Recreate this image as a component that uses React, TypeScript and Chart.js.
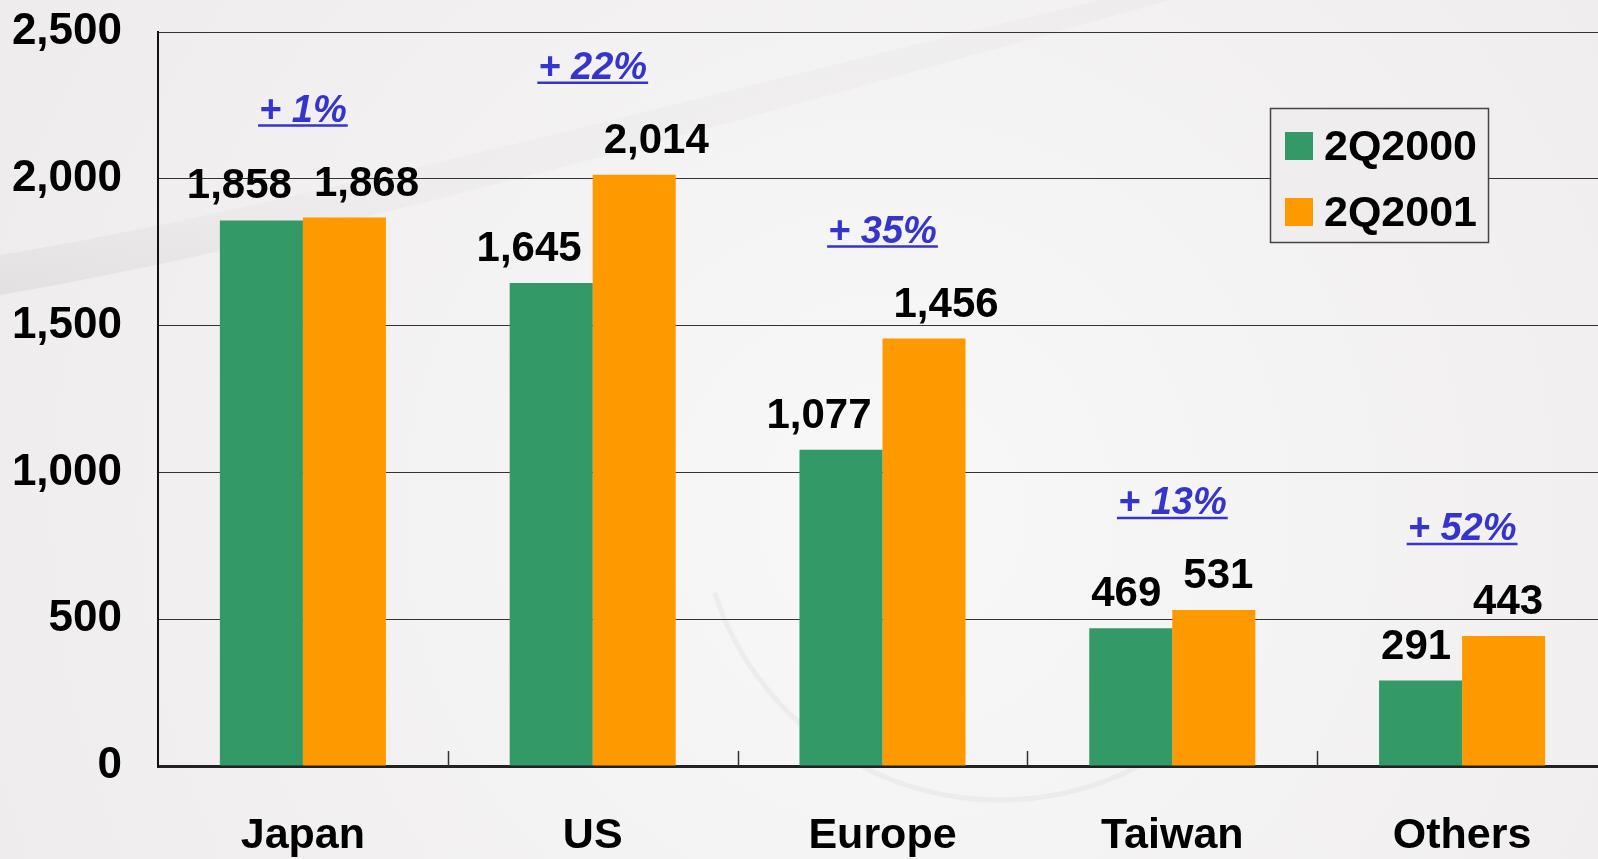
import React, { useEffect, useRef } from 'react';
import { Chart, registerables } from 'chart.js';

Chart.register(...registerables);

const CATEGORIES = ['Japan', 'US', 'Europe', 'Taiwan', 'Others'];
const SERIES_2000 = [1858, 1645, 1077, 469, 291];
const SERIES_2001 = [1868, 2014, 1456, 531, 443];
const SERIES_LABELS = ['2Q2000', '2Q2001'];
const SERIES_COLORS = ['#339966', '#FF9900'];
const GROWTH_LABELS = ['+ 1%', '+ 22%', '+ 35%', '+ 13%', '+ 52%'];
const Y_MIN = 0;
const Y_MAX = 2500;
const Y_STEP = 500;

const FONT = '"Liberation Sans", Arial, Helvetica, sans-serif';

const fmt = (v: number) => v.toLocaleString('en-US');

const backgroundPlugin = {
  id: 'bgPlugin',
  beforeDraw(chart: any) {
    const ctx = chart.ctx as CanvasRenderingContext2D;
    const w = chart.width;
    const h = chart.height;
    ctx.save();
    ctx.fillStyle = '#eeecec';
    ctx.fillRect(0, 0, w, h);
    // light area in the middle
    const rg = ctx.createRadialGradient(w * 0.55, h * 0.6, 50, w * 0.55, h * 0.6, w * 0.6);
    rg.addColorStop(0, 'rgba(249,248,248,0.95)');
    rg.addColorStop(1, 'rgba(249,248,248,0)');
    ctx.fillStyle = rg;
    ctx.fillRect(0, 0, w, h);
    // soft diagonal swoosh top-left
    ctx.beginPath();
    ctx.moveTo(0, 255);
    ctx.bezierCurveTo(300, 205, 700, 95, 1100, 0);
    ctx.lineTo(1170, 0);
    ctx.bezierCurveTo(760, 115, 320, 240, 0, 295);
    ctx.closePath();
    const lg = ctx.createLinearGradient(0, 200, 0, 300);
    lg.addColorStop(0, 'rgba(170,165,165,0.06)');
    lg.addColorStop(1, 'rgba(150,145,145,0.14)');
    ctx.fillStyle = lg;
    ctx.fill();
    // faint arc
    ctx.beginPath();
    ctx.arc(1000, 500, 300, Math.PI * 0.2, Math.PI * 0.9);
    ctx.strokeStyle = 'rgba(160,155,155,0.10)';
    ctx.lineWidth = 5;
    ctx.stroke();
    ctx.restore();
  },
};

const annotationPlugin = {
  id: 'annotPlugin',
  afterDatasetsDraw(chart: any) {
    const ctx = chart.ctx as CanvasRenderingContext2D;
    const area = chart.chartArea;
    const xScale = chart.scales.x;
    ctx.save();

    // inner category tick marks on x axis
    ctx.strokeStyle = '#333';
    ctx.lineWidth = 1.5;
    for (let i = 1; i < CATEGORIES.length; i++) {
      const x = Math.round((xScale.getPixelForValue(i - 1) + xScale.getPixelForValue(i)) / 2) + 0.5;
      ctx.beginPath();
      ctx.moveTo(x, area.bottom);
      ctx.lineTo(x, area.bottom - 15);
      ctx.stroke();
    }

    // value labels
    const m0 = chart.getDatasetMeta(0);
    const m1 = chart.getDatasetMeta(1);
    ctx.font = `bold 42px ${FONT}`;
    ctx.fillStyle = '#000';
    ctx.textAlign = 'center';
    ctx.textBaseline = 'alphabetic';
    const gap = 22;
    for (let j = 0; j < CATEGORIES.length; j++) {
      const b0 = m0.data[j];
      const b1 = m1.data[j];
      const t0 = fmt(SERIES_2000[j]);
      const t1 = fmt(SERIES_2001[j]);
      const w0 = ctx.measureText(t0).width;
      const w1 = ctx.measureText(t1).width;
      let x0 = b0.x;
      let x1 = b1.x;
      const needed = (w0 + w1) / 2 + 22;
      if (x1 - x0 < needed) {
        const s = (needed - (x1 - x0)) / 2;
        x0 -= s;
        x1 += s;
      }
      ctx.fillText(t0, x0, b0.y - gap);
      ctx.fillText(t1, x1, b1.y - gap);
    }

    // growth labels
    ctx.font = `italic bold 38px ${FONT}`;
    ctx.fillStyle = '#3535CC';
    ctx.strokeStyle = '#3535CC';
    ctx.lineWidth = 2.5;
    for (let j = 0; j < CATEGORIES.length; j++) {
      const x = xScale.getPixelForValue(j);
      const top = Math.min(m0.data[j].y, m1.data[j].y);
      const y = top - 96;
      const t = GROWTH_LABELS[j];
      const w = ctx.measureText(t).width;
      ctx.fillText(t, x, y);
      ctx.beginPath();
      ctx.moveTo(x - w / 2 - 1, y + 4);
      ctx.lineTo(x + w / 2 + 1, y + 4);
      ctx.stroke();
    }

    // legend box
    const lx = area.right - 337;
    const ly = area.top + 76;
    const lw = 218;
    const lh = 134;
    ctx.fillStyle = '#efedee';
    ctx.fillRect(lx, ly, lw, lh);
    ctx.strokeStyle = '#444';
    ctx.lineWidth = 1.5;
    ctx.strokeRect(lx + 0.5, ly + 0.5, lw, lh);
    ctx.font = `bold 43px ${FONT}`;
    ctx.textAlign = 'left';
    ctx.textBaseline = 'middle';
    const rows = [ly + 38, ly + 104];
    for (let i = 0; i < SERIES_LABELS.length; i++) {
      ctx.fillStyle = SERIES_COLORS[i];
      ctx.fillRect(lx + 15, rows[i] - 14, 28, 28);
      ctx.fillStyle = '#000';
      ctx.fillText(SERIES_LABELS[i], lx + 54, rows[i] + 2);
    }

    ctx.restore();
  },
};

export default function App() {
  const canvasRef = useRef<HTMLCanvasElement | null>(null);

  useEffect(() => {
    const canvas = canvasRef.current;
    if (!canvas) return;
    const chart = new Chart(canvas, {
      type: 'bar',
      data: {
        labels: CATEGORIES,
        datasets: [
          {
            label: SERIES_LABELS[0],
            data: SERIES_2000,
            backgroundColor: SERIES_COLORS[0],
            borderWidth: 0,
            categoryPercentage: 0.573,
            barPercentage: 1,
          },
          {
            label: SERIES_LABELS[1],
            data: SERIES_2001,
            backgroundColor: SERIES_COLORS[1],
            borderWidth: 0,
            categoryPercentage: 0.573,
            barPercentage: 1,
          },
        ],
      },
      options: {
        responsive: false,
        animation: false,
        devicePixelRatio: 1,
        layout: { padding: { top: 32, right: 13, bottom: 0, left: 0 } },
        plugins: {
          legend: { display: false },
          tooltip: { enabled: false },
          title: { display: false },
        },
        scales: {
          x: {
            grid: { display: false, drawTicks: false },
            border: { display: true, color: '#222', width: 3 },
            ticks: {
              color: '#000',
              font: { family: FONT, size: 43, weight: 'bold' },
              padding: 44,
              maxRotation: 0,
            },
            afterFit: (s: any) => {
              s.height = 93;
              s.paddingLeft = 0;
              s.paddingRight = 0;
            },
          },
          y: {
            min: Y_MIN,
            max: Y_MAX,
            ticks: {
              stepSize: Y_STEP,
              color: '#000',
              font: { family: FONT, size: 44, weight: 'bold' },
              padding: 36,
              callback: (v: any) => fmt(Number(v)),
            },
            grid: { color: '#333', lineWidth: 1, drawTicks: false },
            border: { display: true, color: '#111', width: 2 },
            afterFit: (s: any) => {
              s.width = 158;
              s.paddingTop = 0;
              s.paddingBottom = 0;
            },
          },
        },
      },
      plugins: [backgroundPlugin, annotationPlugin],
    });
    return () => chart.destroy();
  }, []);

  return (
    <div
      style={{
        position: 'fixed',
        left: 0,
        top: 0,
        width: 1598,
        height: 859,
        overflow: 'hidden',
        background: '#eeecec',
      }}
    >
      <canvas ref={canvasRef} width={1620} height={859} style={{ display: 'block' }} />
    </div>
  );
}
